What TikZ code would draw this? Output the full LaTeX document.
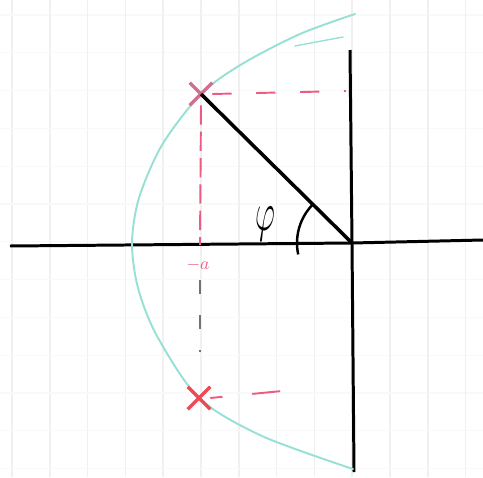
\documentclass[tikz,border=0pt]{standalone}
\usepackage{amsmath, amssymb}
\usepackage{tikz}
\usetikzlibrary{shapes.misc, positioning, calc}
\definecolor{locuscol}{RGB}{150,224,212}
\definecolor{guidecol}{RGB}{236,92,130}
\definecolor{poleup}{RGB}{206,112,142}
\definecolor{polelow}{RGB}{238,74,86}
\tikzset{
    gridv/.style = {draw=gray!12, line width=0.9pt},
    gridh/.style = {draw=gray!5, line width=0.7pt},
    axis/.style = {draw=black, line width=1.7pt},
    ray/.style = {draw=black, line width=2pt},
    locus/.style = {draw=locuscol, line width=1.1pt, line cap=round},
    guide/.style = {draw=guidecol, line width=1.1pt, dash pattern=on 11pt off 14pt},
    pole/.style = {cross out, draw, line width=2pt, minimum size=0.38cm, inner sep=0pt}
}
\begin{document}
\begin{tikzpicture}[x=0.02cm, y=-0.02cm]
        \useasboundingbox (0,0) rectangle (483,477);

        % Squared paper
        \foreach \i in {0,...,12} {
            \draw [gridv] (12+37.8*\i,0) -- (12+37.8*\i,477);
            \draw [gridh] (0,15+37.8*\i) -- (483,15+37.8*\i);
        }

        % Axes (Re / Im)
        \coordinate (O) at (352,243);
        \coordinate (xl) at (10,246);
        \coordinate (xr) at (483,240);
        \coordinate (yt) at (350,50);
        \coordinate (yb) at (354,472);
        \draw [axis] (xl) -- (O) -- (xr);
        \draw [axis] (yt) -- (O) -- (yb);

        % Root locus curve
        \draw [locus] plot [smooth] coordinates {(355,14) (300,34) (242,64) (201,94) (162,145) (139,198) (132,243) (138,288) (157,336) (199,398) (262,436) (353,469)};
        \draw [locus, line width=0.8pt] (295,46) -- (343,37);

        % Poles
        \node (p1) [pole, draw=poleup] at (201,94) {};
        \node (p2) [pole, draw=polelow] at (199,398) {};

        % Projections
        \coordinate (h1) at (346,91);
        \coordinate (h2) at (282,391);
        \coordinate (v1) at (200,245);
        \coordinate (v2) at (200,280);
        \coordinate (v3) at (200,352);
        \draw [guide] (p1.east) -- (h1);
        \draw [guide, dash pattern=on 7pt off 17pt on 16pt off 60pt] (p2.east) -- (h2);
        \draw [guide, dash pattern=on 11pt off 4pt] (p1.south) -- (v1);
        \draw [draw=black!55, line width=1pt, dash pattern=on 8pt off 12pt] (v2) -- (v3);
        \node (re) [text=guidecol] at (198,265) {$-a$};

        % Damping angle
        \draw [ray] (O) -- (p1.center);
        \draw [line width=1.4pt] ([shift={(168:55)}]O) arc [start angle=168, end angle=226, radius=55];
        \node (phi) [font=\huge, xscale=0.85, yscale=1.5] at (265,224) {$\varphi$};
\end{tikzpicture}
\end{document}
